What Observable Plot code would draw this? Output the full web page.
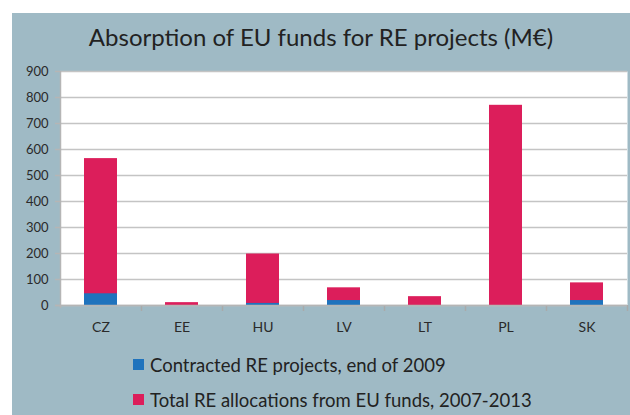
<!DOCTYPE html>
<html>
<head>
<meta charset="utf-8">
<script src="https://cdn.jsdelivr.net/npm/d3@7"></script>
<script src="https://cdn.jsdelivr.net/npm/@observablehq/plot@0.6"></script>
<style>
  html, body { margin: 0; padding: 0; background: #fff; }
  #wrap { position: relative; width: 630px; height: 415px; overflow: hidden; font-family: Lato, "Open Sans", sans-serif; }
  #panel { position: absolute; left: 12px; top: 13px; width: 618px; height: 402px; background: #9fbac5; }
  #title { position: absolute; left: 12px; top: 22px; width: 618px; text-align: center; font-size: 24px; color: #222; }
  #chart { position: absolute; left: 0; top: 0; }
  #legend { position: absolute; left: 133px; top: 347px; font-size: 18.5px; color: #222; }
  .li { display: flex; align-items: center; height: 35px; }
  .sw { width: 11px; height: 11px; margin-right: 6px; }
</style>
</head>
<body>
<div id="wrap">
  <div id="panel"></div>
  <div id="title">Absorption of EU funds for RE projects (M€)</div>
  <div id="chart"></div>
  <div id="legend"></div>
</div>
<script>
const countries = ["CZ", "EE", "HU", "LV", "LT", "PL", "SK"];
const contracted = [45, 0, 8, 19, 0, 0, 19];
const totalAlloc = [565, 11, 198, 68, 34, 770, 87];
const yTicks = [0, 100, 200, 300, 400, 500, 600, 700, 800, 900];
const seriesNames = ["Contracted RE projects, end of 2009", "Total RE allocations from EU funds, 2007-2013"];
const seriesColors = ["#1f73bd", "#dc1e5b"];

const totalData = countries.map((c, i) => ({country: c, value: totalAlloc[i]}));
const contractedData = countries.map((c, i) => ({country: c, value: contracted[i]}));

const chart = Plot.plot({
  width: 630,
  height: 415,
  marginTop: 71,
  marginBottom: 110,
  marginLeft: 60,
  marginRight: 3,
  style: {background: "transparent", fontFamily: "Lato, 'Open Sans', sans-serif", color: "#2a2a2a"},
  x: {domain: countries, paddingInner: 0.59, paddingOuter: 0.295, label: null},
  y: {domain: [0, 900], label: null},
  marks: [
    Plot.frame({fill: "white", stroke: null}),
    Plot.gridY(yTicks, {stroke: "#c4c4c4", strokeOpacity: 1, strokeWidth: 1.5}),
    Plot.barY(totalData, {x: "country", y: "value", fill: seriesColors[1]}),
    Plot.barY(contractedData, {x: "country", y: "value", fill: seriesColors[0]}),
    Plot.ruleX(countries, {x: d => d, y1: 0, y2: 0, dx: 40.5, insetTop: 6, stroke: "#a9a9a9", strokeWidth: 1.5}),
    Plot.ruleY([0], {stroke: "#b5b5b5", strokeWidth: 1.5, insetLeft: -5}),
    Plot.ruleX([countries[0]], {x: d => d, dx: -40.5, y1: 0, y2: 900, insetTop: 3, stroke: "#b5b5b5", strokeWidth: 1.5}),
    Plot.axisY({ticks: yTicks, tickSize: 5, tickPadding: 7, fontSize: 13, stroke: "#b5b5b5", strokeWidth: 1.5, label: null}),
    Plot.axisX({tickSize: 0, tickPadding: 17, fontSize: 14, label: null})
  ]
});
document.getElementById("chart").appendChild(chart);

const legend = document.getElementById("legend");
seriesNames.forEach((name, i) => {
  const row = document.createElement("div");
  row.className = "li";
  const sw = document.createElement("span");
  sw.className = "sw";
  sw.style.background = seriesColors[i];
  const tx = document.createElement("span");
  tx.textContent = name;
  row.appendChild(sw);
  row.appendChild(tx);
  legend.appendChild(row);
});
</script>
</body>
</html>
